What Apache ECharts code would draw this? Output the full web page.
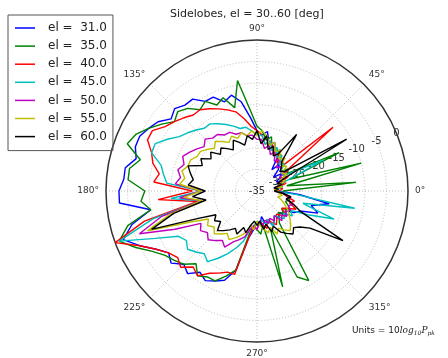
<!DOCTYPE html>
<html>
<head>
<meta charset="utf-8">
<script src="https://cdn.jsdelivr.net/npm/echarts@6/dist/echarts.min.js"></script>
<style>
  html, body { margin: 0; padding: 0; background: #fff; }
  #chart { width: 448px; height: 358px; }
</style>
</head>
<body>
<div id="chart"></div>
<script>
// azimuth of each sample, degrees
const angles = [0, 5, 10, 15, 20, 25, 30, 35, 40, 45, 50, 55,
  60, 65, 70, 75, 80, 85, 90, 95, 100, 105, 110, 115,
  120, 125, 130, 135, 140, 145, 150, 155, 160, 165, 170, 175,
  180, 185, 190, 195, 200, 205, 210, 215, 220, 225, 230, 235,
  240, 245, 250, 255, 260, 265, 270, 275, 280, 285, 290, 295,
  300, 305, 310, 315, 320, 325, 330, 335, 340, 345, 350, 355];

const el31 = [-30, -31, -29, -30, -28, -30, -29, -28, -30, -28, -27, -29,
  -24, -25, -23, -24, -21, -22, -21, -18, -14, -12, -13, -11,
  -11, -9, -9, -8, -9, -7, -6, -5, -5, -6, -4, -4,
  -3, -3, -10, -5, -2, -5, -8, -10, -9, -11, -10, -12,
  -11, -12, -13, -16, -24, -26, -28, -27, -29, -27, -28, -26,
  -27, -28, -27, -28, -26, -27, -25, -24, -20, -22, -18, -25];
const el35 = [-29, -12, -28, -10, -27, -14, -27, -26, -28, -26, -27, -25,
  -25, -24, -25, -22, -23, -21, -20, -16, -9, -15, -12, -13,
  -11, -12, -10, -9, -10, -8, -6, -4, -3, -7, -5, -5,
  -9, -8, -10, -4, -1, -4, -7, -9, -10, -11, -13, -11,
  -12, -12, -14, -16, -25, -27, -26, -25, -27, -12, -26, -13,
  -11, -26, -27, -28, -27, -28, -26, -27, -28, -27, -28, -29];
const el40 = [-30, -29, -30, -28, -29, -27, -28, -26, -12, -27, -26, -27,
  -25, -26, -24, -23, -24, -22, -21, -20, -18, -16, -15, -14,
  -13, -12, -12, -11, -10, -9, -7, -7, -9, -10, -12, -11,
  -20, -12, -21, -8, 0, -5, -8, -10, -11, -10, -12, -11,
  -13, -14, -15, -15, -24, -27, -26, -28, -27, -26, -28, -27,
  -26, -27, -28, -27, -26, -28, -27, -25, -27, -26, -28, -29];
const el45 = [-31, -30, -29, -30, -27, -18, -28, -27, -28, -26, -27, -25,
  -26, -24, -25, -23, -24, -22, -22, -21, -20, -20, -19, -18,
  -17, -16, -16, -15, -14, -13, -11, -9, -9, -12, -13, -14,
  -22, -15, -22, -10, -1, -9, -14, -15, -14, -15, -16, -15,
  -17, -19, -21, -23, -26, -27, -28, -27, -28, -27, -28, -26,
  -27, -28, -27, -26, -27, -25, -26, -22, -16, -24, -12, -26];
const el50 = [-31, -30, -31, -29, -30, -28, -29, -27, -28, -27, -28, -26,
  -27, -25, -26, -24, -25, -23, -23, -22, -22, -21, -21, -20,
  -20, -19, -19, -18, -19, -18, -17, -16, -17, -16, -17, -16,
  -22, -17, -22, -12, -6, -14, -20, -19, -20, -19, -20, -21,
  -20, -22, -23, -24, -26, -27, -26, -28, -27, -28, -27, -28,
  -27, -28, -26, -27, -26, -27, -26, -27, -26, -28, -27, -29];
const el55 = [-30, -31, -29, -30, -28, -29, -27, -28, -26, -27, -25, -26,
  -24, -25, -23, -24, -22, -21, -22, -21, -22, -21, -22, -21,
  -22, -21, -20, -21, -20, -19, -19, -18, -18, -17, -18, -17,
  -22, -18, -22, -14, -8, -18, -22, -21, -22, -21, -22, -23,
  -22, -23, -24, -25, -27, -26, -28, -27, -26, -25, -26, -24,
  -25, -24, -23, -24, -25, -26, -27, -28, -29, -30, -29, -30];
const el60 = [-31, -30, -31, -29, -30, -28, -11, -27, -28, -27, -26, -19,
  -25, -26, -24, -25, -22, -24, -21, -23, -22, -24, -23, -22,
  -24, -23, -22, -23, -21, -22, -20, -21, -18, -19, -20, -19,
  -23, -20, -23, -15, -9, -20, -24, -23, -24, -22, -23, -24,
  -25, -24, -26, -25, -27, -28, -27, -28, -26, -27, -25, -26,
  -24, -23, -22, -23, -22, -20, -12, -24, -26, -28, -27, -29];

const seriesNames = ['el =  31.0', 'el =  35.0', 'el =  40.0', 'el =  45.0', 'el =  50.0', 'el =  55.0', 'el =  60.0'];
const seriesValues = [el31, el35, el40, el45, el50, el55, el60];
const colors = ['#0000ff', '#008000', '#ff0000', '#00bfbf', '#bf00bf', '#bfbf00', '#000000'];

const chart = echarts.init(document.getElementById('chart'));

// close each curve back onto its first sample
function toPolar(vals) {
  const pts = vals.map((v, i) => [v, angles[i]]);
  pts.push([vals[0], 360]);
  return pts;
}

const gridLine = { show: true, lineStyle: { color: '#bbb', type: [1, 2], width: 1 } };

const option = {
  animation: false,
  backgroundColor: '#fff',
  color: colors,
  polar: [
    { center: [257, 191], radius: 151 },
    { center: [257, 191], radius: 151 }
  ],
  angleAxis: [
    {
      polarIndex: 0,
      type: 'value',
      min: 0,
      max: 360,
      interval: 45,
      startAngle: 0,
      clockwise: false,
      axisLine: { lineStyle: { color: '#333', width: 1.5 } },
      axisTick: { show: false },
      axisLabel: {
        margin: 7,
        fontSize: 9,
        color: '#333',
        fontFamily: 'DejaVu Sans',
        formatter: v => (v === 360 ? '' : v + '°')
      },
      splitLine: gridLine
    },
    {
      polarIndex: 1,
      type: 'value',
      min: 0,
      max: 360,
      startAngle: 22.5,
      show: false
    }
  ],
  radiusAxis: [
    {
      polarIndex: 0,
      type: 'value',
      min: -35,
      max: 0,
      interval: 5,
      axisLine: { show: false },
      axisTick: { show: false },
      axisLabel: { show: false },
      splitLine: gridLine
    },
    {
      polarIndex: 1,
      type: 'value',
      min: -35,
      max: 0,
      interval: 5,
      axisLine: { show: false },
      axisTick: { show: false },
      splitLine: { show: false },
      axisLabel: {
        margin: 0,
        align: 'center',
        verticalAlign: 'middle',
        fontSize: 10,
        color: '#333',
        fontFamily: 'DejaVu Sans',
        showMinLabel: true,
        showMaxLabel: true
      }
    }
  ],
  legend: {
    orient: 'vertical',
    left: 8,
    top: 15,
    padding: [7, 6, 8, 7],
    borderColor: '#555',
    borderWidth: 1,
    icon: 'rect',
    itemWidth: 20,
    itemHeight: 1.5,
    itemGap: 6.1,
    textStyle: { fontSize: 12, color: '#222', fontFamily: 'DejaVu Sans', padding: [0, 0, 0, 8] },
    data: seriesNames
  },
  graphic: [
    {
      type: 'text',
      left: 257 - 87,
      top: 9,
      style: {
        text: 'Sidelobes, el = 30..60 [deg]',
        fontSize: 11,
        fontFamily: 'DejaVu Sans',
        fill: '#222'
      }
    },
    {
      type: 'text',
      left: 352,
      top: 326,
      style: {
        text: '{n|Units = }{n|10}{i|log}{s|10}{i|P}{s|pk}',
        rich: {
          n: { fontSize: 9, fontFamily: 'DejaVu Sans', fill: '#222' },
          i: { fontSize: 9, fontFamily: 'DejaVu Serif', fontStyle: 'italic', fill: '#222' },
          s: { fontSize: 6, fontFamily: 'DejaVu Serif', fontStyle: 'italic', fill: '#222', padding: [6, 0, 0, 0] }
        }
      }
    }
  ],
  series: seriesValues.map((vals, k) => ({
    name: seriesNames[k],
    type: 'line',
    coordinateSystem: 'polar',
    polarIndex: 0,
    symbol: 'none',
    lineStyle: { width: 1.4, color: colors[k] },
    data: toPolar(vals)
  }))
};

chart.setOption(option);
</script>
</body>
</html>
